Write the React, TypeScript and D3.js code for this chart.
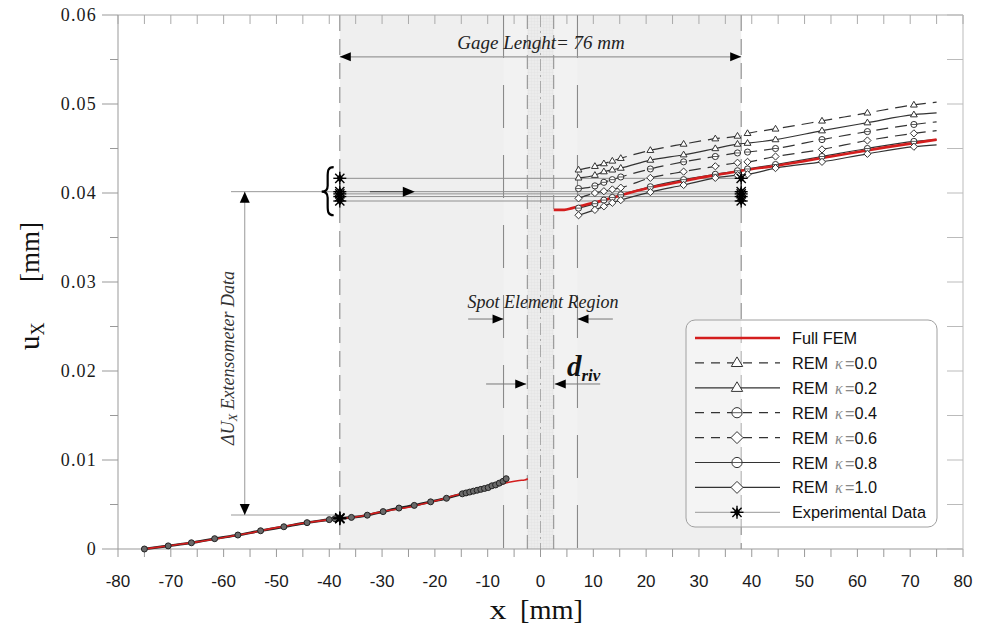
import React from 'react';
import * as d3 from 'd3';

// ---------- data ----------
const xTickValues = [-80, -70, -60, -50, -40, -30, -20, -10, 0, 10, 20, 30, 40, 50, 60, 70, 80];
const xTickLabels = ['-80', '-70', '-60', '-50', '-40', '-30', '-20', '-10', '0', '10', '20', '30', '40', '50', '60', '70', '80'];
const yTickValues = [0, 0.01, 0.02, 0.03, 0.04, 0.05, 0.06];
const yTickLabels = ['0', '0.01', '0.02', '0.03', '0.04', '0.05', '0.06'];

// Full FEM (red)
const femLeft: [number, number][] = [
  [-75, 0], [-70, 0.0004], [-65, 0.0008], [-60, 0.0013], [-55, 0.0018], [-50, 0.0024], [-45, 0.0029],
  [-40, 0.0033], [-35, 0.0036], [-30, 0.0042], [-25, 0.0047], [-20, 0.0054], [-15, 0.0062], [-12, 0.0066],
  [-10, 0.0069], [-8, 0.0072], [-6, 0.0075], [-4, 0.0077], [-3, 0.00775], [-2.4, 0.0079],
];
const femRight: [number, number][] = [
  [2.5, 0.0381], [4.5, 0.0381], [6, 0.0383], [8, 0.0386], [10, 0.0389], [12, 0.0392], [15, 0.0397],
  [20, 0.0405], [25, 0.0411], [30, 0.0417], [35, 0.0422], [38, 0.0425], [45, 0.0431], [55, 0.0441],
  [65, 0.0451], [75, 0.046],
];

// REM (all κ coincide on the left side)
const remLeft: [number, number][] = [
  [-75, 0], [-70.5, 0.00035], [-66.1, 0.0007], [-61.7, 0.00116], [-57.3, 0.00157], [-53, 0.00205],
  [-48.6, 0.0025], [-44.2, 0.00296], [-40, 0.0033], [-38.9, 0.0034], [-35.8, 0.00355], [-32.8, 0.0038],
  [-29.8, 0.0042], [-26.8, 0.0046], [-23.9, 0.0049], [-20.8, 0.0053], [-17.8, 0.0057], [-14.8, 0.0062],
  [-14.1, 0.0063], [-13.4, 0.0064], [-12.7, 0.0065], [-12.0, 0.0066], [-11.3, 0.0067], [-10.6, 0.0068],
  [-9.9, 0.0069], [-9.2, 0.0071], [-8.5, 0.0072], [-7.8, 0.0074], [-7.1, 0.0076], [-6.5, 0.0079],
];

// REM right side x positions (last one is the line end, no marker)
const remRightX = [7.2, 10.3, 12, 13.6, 15.2, 20.8, 27.1, 33.1, 37.3, 39.2, 44.5, 53.3, 61.9, 70.7, 75];
const remK00 = [0.0426, 0.043, 0.0433, 0.0436, 0.0439, 0.0448, 0.0455, 0.0461, 0.0464, 0.0467, 0.0472, 0.0481, 0.049, 0.0499, 0.0502];
const remK02 = [0.0417, 0.042, 0.0424, 0.0426, 0.0428, 0.0437, 0.0443, 0.045, 0.0455, 0.0456, 0.046, 0.047, 0.0479, 0.0488, 0.049];
const remK04 = [0.0405, 0.0408, 0.0412, 0.0415, 0.0418, 0.0427, 0.0435, 0.0441, 0.0445, 0.0446, 0.045, 0.046, 0.0469, 0.0477, 0.048];
const remK06 = [0.0394, 0.04, 0.0402, 0.0404, 0.0406, 0.0417, 0.0424, 0.043, 0.0434, 0.0435, 0.0441, 0.0449, 0.0459, 0.0467, 0.047];
const remK08 = [0.0383, 0.0388, 0.0392, 0.0395, 0.0398, 0.0407, 0.0415, 0.0421, 0.0425, 0.0427, 0.0432, 0.0441, 0.045, 0.0458, 0.046];
const remK10 = [0.0375, 0.0381, 0.0385, 0.0389, 0.0392, 0.0401, 0.0409, 0.0417, 0.042, 0.0421, 0.0428, 0.0435, 0.0444, 0.0452, 0.0454];

// Experimental data (extensometer, at ±38 mm)
const expX = [-38, 38];
const expTopValues = [0.04165, 0.04015, 0.0399, 0.0396, 0.0391];
const expBottomValues = [0.0034, 0.00345, 0.0035];

const remSeries = [
  { label: '0.0', values: remK00, dashed: true, marker: 'tri' },
  { label: '0.2', values: remK02, dashed: false, marker: 'tri' },
  { label: '0.4', values: remK04, dashed: true, marker: 'circ' },
  { label: '0.6', values: remK06, dashed: true, marker: 'diam' },
  { label: '0.8', values: remK08, dashed: false, marker: 'circ' },
  { label: '1.0', values: remK10, dashed: false, marker: 'diam' },
];

// ---------- layout ----------
const W = 987;
const H = 625;
const x = d3.scaleLinear().domain([-80, 80]).range([118, 963]);
const y = d3.scaleLinear().domain([0, 0.06]).range([549, 15]);

const lineGen = d3
  .line<[number, number]>()
  .x((d) => x(d[0]))
  .y((d) => y(d[1]))
  .curve(d3.curveMonotoneX);

const RED = '#d41e1e';
const DARK = '#333';
const SERIF = '"Liberation Serif", "Times New Roman", serif';
const SANS = '"Liberation Sans", Arial, sans-serif';

function Marker({ type, cx, cy, s }: { type: string; cx: number; cy: number; s: number }) {
  const common = { fill: 'white', stroke: DARK, strokeWidth: 1 };
  if (type === 'tri') {
    const pts = [
      [cx, cy - s],
      [cx + s * 0.95, cy + s * 0.6],
      [cx - s * 0.95, cy + s * 0.6],
    ]
      .map((p) => p.join(','))
      .join(' ');
    return <polygon points={pts} {...common} />;
  }
  if (type === 'diam') {
    const pts = [
      [cx, cy - s],
      [cx + s, cy],
      [cx, cy + s],
      [cx - s, cy],
    ]
      .map((p) => p.join(','))
      .join(' ');
    return <polygon points={pts} {...common} />;
  }
  return (
    <g>
      <circle cx={cx} cy={cy} r={s * 0.85} {...common} />
      <line x1={cx - s * 0.85} x2={cx + s * 0.85} y1={cy} y2={cy} stroke={DARK} strokeWidth={0.8} />
    </g>
  );
}

function Star({ cx, cy, r = 6.5 }: { cx: number; cy: number; r?: number }) {
  const spokes = [0, 45, 90, 135].map((a) => {
    const rad = (a * Math.PI) / 180;
    return (
      <line
        key={a}
        x1={cx - r * Math.cos(rad)}
        y1={cy - r * Math.sin(rad)}
        x2={cx + r * Math.cos(rad)}
        y2={cy + r * Math.sin(rad)}
        stroke="#000"
        strokeWidth={1.4}
      />
    );
  });
  return (
    <g>
      {spokes}
      <polygon
        points={`${cx},${cy - 4.5} ${cx + 3.2},${cy} ${cx},${cy + 4.5} ${cx - 3.2},${cy}`}
        fill="#000"
      />
    </g>
  );
}

function Head({ tx, ty, dir, len = 11, hw = 4.5 }: { tx: number; ty: number; dir: string; len?: number; hw?: number }) {
  let pts = '';
  if (dir === 'right') pts = `${tx},${ty} ${tx - len},${ty - hw} ${tx - len},${ty + hw}`;
  if (dir === 'left') pts = `${tx},${ty} ${tx + len},${ty - hw} ${tx + len},${ty + hw}`;
  if (dir === 'up') pts = `${tx},${ty} ${tx - hw},${ty + len} ${tx + hw},${ty + len}`;
  if (dir === 'down') pts = `${tx},${ty} ${tx - hw},${ty - len} ${tx + hw},${ty - len}`;
  return <polygon points={pts} fill="#000" />;
}

export default function App() {
  const top = y(0.06);
  const bottom = y(0);
  const left = x(-80);
  const right = x(80);

  const minorX = d3.range(-80, 81, 5);
  const minorY = d3.range(0, 0.0601, 0.005);

  const gageY = y(0.0553);
  const spotY = y(0.02584);
  const drivY = y(0.01854);
  const dUx = x(-56);
  const dUtop = y(0.04015);
  const dUbot = y(0.00382);

  // legend
  const lgX = 686;
  const lgY = 320;
  const rowY = (i: number) => 338 + i * 24.9;

  // brace
  const bx = x(-40.3);
  const bTop = y(0.0429);
  const bBot = y(0.0375);
  const bMid = y(0.04015);
  const bracePath = `M ${bx + 6} ${bTop} C ${bx} ${bTop}, ${bx} ${bTop + 4}, ${bx} ${bTop + 10} L ${bx} ${bMid - 6} C ${bx} ${bMid - 2}, ${bx - 2} ${bMid}, ${bx - 6} ${bMid} C ${bx - 2} ${bMid}, ${bx} ${bMid + 2}, ${bx} ${bMid + 6} L ${bx} ${bBot - 10} C ${bx} ${bBot - 4}, ${bx} ${bBot}, ${bx + 6} ${bBot}`;

  return (
    <svg width={W} height={H} style={{ position: 'absolute', left: 0, top: 0, background: '#fff' }}>
      <defs>
        <pattern id="grid" width="3" height="3" patternUnits="userSpaceOnUse">
          <rect width="3" height="3" fill="#ececec" />
          <path d="M 0 0 L 3 0 M 0 0 L 0 3" stroke="#dcdcdc" strokeWidth="0.5" />
        </pattern>
      </defs>

      {/* shaded regions */}
      <rect x={x(-38)} y={top} width={x(38) - x(-38)} height={bottom - top} fill="#efefef" />
      <rect x={x(-7)} y={top} width={x(7) - x(-7)} height={bottom - top} fill="#f2f2f2" />
      <rect x={x(-2.5)} y={top} width={x(2.5) - x(-2.5)} height={bottom - top} fill="url(#grid)" />

      {/* vertical reference lines */}
      {[-38, 38].map((v) => (
        <line key={v} x1={x(v)} x2={x(v)} y1={top} y2={bottom} stroke="#8a8a8a" strokeWidth={1.1} strokeDasharray="16 8" />
      ))}
      {[-2.5, 2.5].map((v) => (
        <line key={v} x1={x(v)} x2={x(v)} y1={top} y2={bottom} stroke="#8a8a8a" strokeWidth={1} strokeDasharray="14 6" />
      ))}
      <line x1={x(0)} x2={x(0)} y1={top} y2={bottom} stroke="#999" strokeWidth={0.8} strokeDasharray="12 4 2 4" />
      {[-7, 7].map((v) => (
        <line key={v} x1={x(v)} x2={x(v)} y1={top} y2={bottom} stroke="#8a8a8a" strokeWidth={1.1} strokeDasharray="43 27" />
      ))}

      {/* axes frame */}
      <line x1={left} x2={right} y1={top} y2={top} stroke="#aaa" strokeWidth={1} />
      <line x1={left} x2={right} y1={bottom} y2={bottom} stroke="#999" strokeWidth={1} />
      <line x1={left} x2={left} y1={top} y2={bottom} stroke="#999" strokeWidth={1} />
      <line x1={right} x2={right} y1={top} y2={bottom} stroke="#bbb" strokeWidth={1} />
      {minorX.map((v) => (
        <g key={v}>
          <line x1={x(v)} x2={x(v)} y1={bottom} y2={bottom + 8} stroke="#999" />
          <line x1={x(v)} x2={x(v)} y1={top} y2={top + 9} stroke="#aaa" />
        </g>
      ))}
      {minorY.map((v, i) => (
        <g key={i}>
          <line x1={left - (i % 2 === 0 ? 16 : 8)} x2={left} y1={y(v)} y2={y(v)} stroke="#999" />
          <line x1={right - 16} x2={right} y1={y(v)} y2={y(v)} stroke="#bbb" />
        </g>
      ))}

      {/* tick labels */}
      {xTickValues.map((v, i) => (
        <text key={v} x={x(v)} y={587} textAnchor="middle" fontFamily={SANS} fontSize={17} fill="#1a1a1a">
          {xTickLabels[i]}
        </text>
      ))}
      {yTickValues.map((v, i) => (
        <text key={v} x={97} y={y(v) + 6} textAnchor="end" fontFamily={SERIF} fontSize={18} letterSpacing={1.2} fill="#1a1a1a">
          {yTickLabels[i]}
        </text>
      ))}

      {/* axis titles */}
      <text x={498} y={619} textAnchor="middle" fontFamily={SERIF} fontSize={27} textLength={17} lengthAdjust="spacingAndGlyphs" fill="#111">
        x
      </text>
      <text x={520} y={619} fontFamily={SERIF} fontSize={27} textLength={63} lengthAdjust="spacingAndGlyphs" fill="#111">
        [mm]
      </text>
      <text transform="translate(39,252) rotate(-90)" textAnchor="middle" fontFamily={SERIF} fontSize={27} fill="#111">
        [mm]
      </text>
      <text transform="translate(39,350) rotate(-90)" fontFamily={SERIF} fontSize={29} fill="#111">
        u
        <tspan fontSize={18} dy={5}>
          X
        </tspan>
      </text>

      {/* Gage length annotation */}
      <text x={541} y={49} textAnchor="middle" fontFamily={SERIF} fontStyle="italic" fontSize={19} fill="#222">
        Gage Lenght= 76 mm
      </text>
      <line x1={x(-38)} x2={x(38)} y1={gageY} y2={gageY} stroke="#999" strokeWidth={1.2} />
      <Head tx={x(-38)} ty={gageY} dir="left" />
      <Head tx={x(38)} ty={gageY} dir="right" />

      {/* experimental horizontal links */}
      {expTopValues.map((v, i) => (
        <line key={i} x1={x(-38)} x2={x(38)} y1={y(v)} y2={y(v)} stroke="#8f8f8f" strokeWidth={1} />
      ))}

      {/* ΔU annotation */}
      <line x1={x(-58.6)} x2={x(-38)} y1={dUtop} y2={dUtop} stroke="#999" strokeWidth={1} />
      <line x1={x(-58.6)} x2={x(-38)} y1={dUbot} y2={dUbot} stroke="#999" strokeWidth={1} />
      <line x1={dUx} x2={dUx} y1={dUtop} y2={dUbot} stroke="#999" strokeWidth={1} />
      <Head tx={dUx} ty={dUtop} dir="up" len={11} hw={5} />
      <Head tx={dUx} ty={dUbot} dir="down" len={11} hw={5} />
      <text transform={`translate(234,358) rotate(-90)`} textAnchor="middle" fontFamily={SERIF} fontStyle="italic" fontSize={18} fill="#333">
        ΔU
        <tspan fontSize={12} dy={3}>
          X
        </tspan>
        <tspan dy={-3}>{'  Extensometer Data'}</tspan>
      </text>
      <path d={bracePath} fill="none" stroke="#000" strokeWidth={2.2} />
      <line x1={x(-32.3)} x2={x(-25)} y1={dUtop} y2={dUtop} stroke="#555" strokeWidth={1.2} />
      <Head tx={x(-23.8)} ty={dUtop} dir="right" len={12} hw={5} />

      {/* Spot element region annotation */}
      <text x={543} y={308} textAnchor="middle" fontFamily={SERIF} fontStyle="italic" fontSize={18} fill="#222">
        Spot Element Region
      </text>
      <line x1={x(-13.7)} x2={x(-7)} y1={spotY} y2={spotY} stroke="#777" />
      <Head tx={x(-7)} ty={spotY} dir="right" />
      <line x1={x(13.7)} x2={x(7)} y1={spotY} y2={spotY} stroke="#777" />
      <Head tx={x(7)} ty={spotY} dir="left" />

      <line x1={x(-10.3)} x2={x(-2.7)} y1={drivY} y2={drivY} stroke="#777" />
      <Head tx={x(-2.7)} ty={drivY} dir="right" />
      <line x1={x(11.3)} x2={x(2.7)} y1={drivY} y2={drivY} stroke="#777" />
      <Head tx={x(2.7)} ty={drivY} dir="left" />
      <text x={567} y={376} fontFamily={SERIF} fontStyle="italic" fontWeight="bold" fontSize={29} fill="#111">
        d
        <tspan fontSize={17} dy={5}>
          riv
        </tspan>
      </text>

      {/* REM left (all κ coincide) */}
      <path d={lineGen(remLeft) || ''} fill="none" stroke="#222" strokeWidth={2.6} />
      <path d={lineGen(femLeft) || ''} fill="none" stroke={RED} strokeWidth={1.6} />
      {remLeft.map((d, i) => (
        <circle key={i} cx={x(d[0])} cy={y(d[1])} r={3} fill="#6a6a6a" stroke="#222" strokeWidth={1} />
      ))}

      {/* REM right curves */}
      {remSeries.map((s) => {
        const pts: [number, number][] = remRightX.map((xx, i) => [xx, s.values[i]]);
        return (
          <g key={s.label}>
            <path
              d={lineGen(pts) || ''}
              fill="none"
              stroke={DARK}
              strokeWidth={1.2}
              strokeDasharray={s.dashed ? '12 7' : undefined}
            />
          </g>
        );
      })}
      <path d={lineGen(femRight) || ''} fill="none" stroke={RED} strokeWidth={2.6} />
      {remSeries.map((s) => (
        <g key={'m' + s.label}>
          {remRightX.slice(0, -1).map((xx, i) => (
            <Marker key={i} type={s.marker} cx={x(xx)} cy={y(s.values[i])} s={3.6} />
          ))}
        </g>
      ))}

      {/* Experimental stars */}
      {expX.map((ex) =>
        expTopValues.map((v, i) => <Star key={ex + '_' + i} cx={x(ex)} cy={y(v)} />)
      )}
      {expBottomValues.map((v, i) => (
        <Star key={'b' + i} cx={x(-38)} cy={y(v)} />
      ))}

      {/* Legend */}
      <rect x={lgX} y={lgY} width={251} height={207} rx={9} fill="rgba(255,255,255,0.35)" stroke="#a0a0a0" strokeWidth={1} />
      <line x1={695} x2={780} y1={rowY(0)} y2={rowY(0)} stroke={RED} strokeWidth={2.6} />
      <text x={792} y={rowY(0) + 6} fontFamily={SANS} fontSize={16.3} fill="#111">
        Full FEM
      </text>
      {remSeries.map((s, i) => {
        const ry = rowY(i + 1);
        return (
          <g key={'lg' + s.label}>
            <line x1={695} x2={780} y1={ry} y2={ry} stroke={DARK} strokeWidth={1.2} strokeDasharray={s.dashed ? '9 7' : undefined} />
            <Marker type={s.marker} cx={737} cy={ry} s={6} />
            <text x={792} y={ry + 6} fontFamily={SANS} fontSize={16.3} fill="#111">
              REM
            </text>
            <text x={835} y={ry + 6} fontFamily={SERIF} fontStyle="italic" fontSize={16} fill="#888">
              κ
            </text>
            <text x={845} y={ry + 6} fontFamily={SANS} fontSize={16.3} fill="#111">
              <tspan fill="#888">=</tspan>
              {s.label}
            </text>
          </g>
        );
      })}
      <line x1={695} x2={780} y1={rowY(7)} y2={rowY(7)} stroke="#999" strokeWidth={1} />
      <Star cx={737} cy={rowY(7)} />
      <text x={792} y={rowY(7) + 6} fontFamily={SANS} fontSize={16.3} fill="#111">
        Experimental Data
      </text>
    </svg>
  );
}
